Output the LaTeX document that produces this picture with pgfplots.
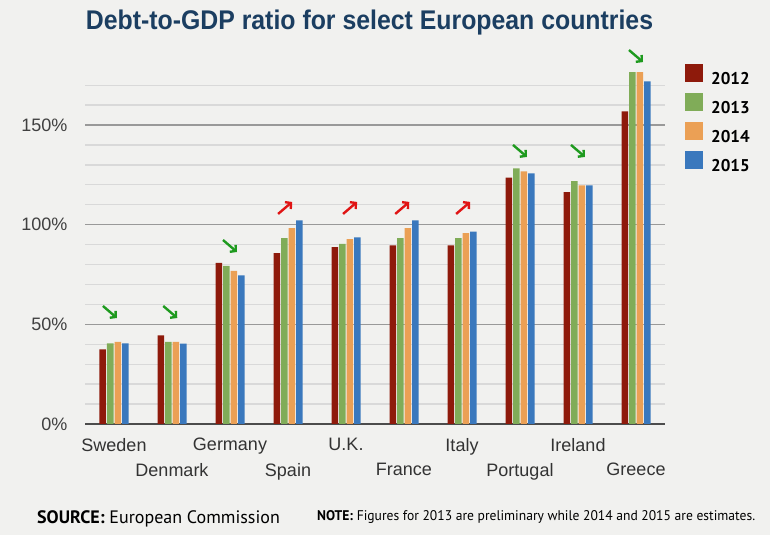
\documentclass[border=0pt]{standalone}
\usepackage{fontspec}
\setmainfont{Liberation Sans}
\newfontfamily\titlefont[FakeStretch=0.92]{Liberation Sans}
\newfontfamily\ptsans{PT Sans}
\newfontfamily\ptnarrow[FakeStretch=0.97]{PT Sans}
\usepackage{pgfplots}
\pgfplotsset{compat=1.18}
\usetikzlibrary{arrows.meta}
\definecolor{bgc}{HTML}{F1F1EF}
\definecolor{cA}{HTML}{8E1A0B}
\definecolor{cB}{HTML}{80AC58}
\definecolor{cC}{HTML}{EBA055}
\definecolor{cD}{HTML}{3A78BD}
\definecolor{titlec}{HTML}{1B3E61}
\definecolor{garrow}{HTML}{1E9A1E}
\definecolor{rarrow}{HTML}{E01414}
\newcommand{\dn}[2]{\draw[garrow,line width=2.4bp,-{Straight Barb[length=4bp,width=9bp]}] ([xshift=-7bp,yshift=6bp]axis cs:#1,#2) -- ([xshift=7bp,yshift=-6bp]axis cs:#1,#2);}
\newcommand{\up}[2]{\draw[rarrow,line width=2.4bp,-{Straight Barb[length=4bp,width=9bp]}] ([xshift=-7bp,yshift=-6bp]axis cs:#1,#2) -- ([xshift=7bp,yshift=6bp]axis cs:#1,#2);}
\begin{document}
\begin{tikzpicture}
\fill[bgc] (0bp,0bp) rectangle (770bp,535bp);
\useasboundingbox (0bp,0bp) rectangle (770bp,535bp);
\begin{axis}[
  at={(85bp,111bp)}, anchor=south west,
  scale only axis, width=580bp, height=348.8bp,
  xmin=-0.5, xmax=9.5, ymin=0, ymax=175,
  clip=false,
  ybar=1bp, bar width=6.5bp,
  axis line style={draw=none},
  major tick length=0pt, minor tick length=0pt,
  ytick={0,50,100,150},
  yticklabels={0\%,50\%,100\%,150\%},
  minor ytick={10,20,30,40,60,70,80,90,110,120,130,140,160,170},
  ymajorgrids, yminorgrids,
  major grid style={draw=black!40, line width=1.5bp},
  minor grid style={draw=black!15, line width=1.3bp},
  yticklabel style={font=\fontsize{18bp}{20bp}\selectfont, text=black!75, xshift=-14bp},
  xtick={0,2,4,6,8},
  xticklabels={Sweden,Germany,U.K.,Italy,Ireland},
  xticklabel style={font=\fontsize{18bp}{20bp}\selectfont, text=black!80, inner sep=0pt, anchor=north, yshift=-14bp},
  extra x ticks={1,3,5,7,9},
  extra x tick labels={Denmark,Spain,France,Portugal,Greece},
  extra x tick style={grid=none, xticklabel style={yshift=-25bp}},
  legend style={at={(rel axis cs:1,1)}, anchor=north west, xshift=20bp, yshift=11bp,
    draw=none, fill=none, inner sep=0pt, row sep=7bp,
    font=\ptsans\bfseries\fontsize{17bp}{18bp}\selectfont,
    nodes={inner sep=0pt},
    /tikz/every odd column/.append style={column sep=8bp}},
  legend cell align=left,
  legend image code/.code={\fill[#1] (0bp,-3bp) rectangle (18bp,15bp);},
]
\draw[black!70, line width=2bp] (axis cs:-0.5,0) -- (axis cs:9.5,0);
\addplot[fill=cA, draw=none] coordinates {(0,37.5) (1,44.5) (2,80.8) (3,85.7) (4,88.7) (5,89.6) (6,89.6) (7,123.6) (8,116.3) (9,156.9)};
\addplot[fill=cB, draw=none] coordinates {(0,40.5) (1,41.2) (2,79.3) (3,93.3) (4,90.4) (5,93.3) (6,93.3) (7,128.3) (8,121.9) (9,176.6)};
\addplot[fill=cC, draw=none] coordinates {(0,41.2) (1,41.2) (2,76.8) (3,98.3) (4,92.8) (5,98.3) (6,95.8) (7,126.8) (8,119.7) (9,176.6)};
\addplot[fill=cD, draw=none] coordinates {(0,40.5) (1,40.3) (2,74.6) (3,102.2) (4,93.6) (5,102.2) (6,96.5) (7,125.8) (8,119.7) (9,171.9)};
\legend{2012,2013,2014,2015}
\dn{-0.07}{56.2}
\dn{0.97}{56.2}
\dn{2}{89.3}
\up{2.95}{108.4}
\up{4.07}{108.4}
\up{4.97}{108.4}
\up{6.02}{108.4}
\dn{7}{137}
\dn{8}{137}
\dn{9}{184.6}
\end{axis}
\node[anchor=center, text=titlec, font=\titlefont\bfseries\fontsize{27bp}{30bp}\selectfont, inner sep=0pt] at (369.5bp,512bp) {Debt-to-GDP ratio for select European countries};
\node[anchor=base west, inner sep=0pt, font=\ptsans\fontsize{18bp}{20bp}\selectfont] at (37bp,11.5bp) {\textbf{SOURCE:} European Commission};
\node[anchor=base west, inner sep=0pt, font=\ptnarrow\fontsize{14bp}{16bp}\selectfont] at (317bp,15bp) {\textbf{NOTE:} Figures for 2013 are preliminary while 2014 and 2015 are estimates.};
\end{tikzpicture}
\end{document}
